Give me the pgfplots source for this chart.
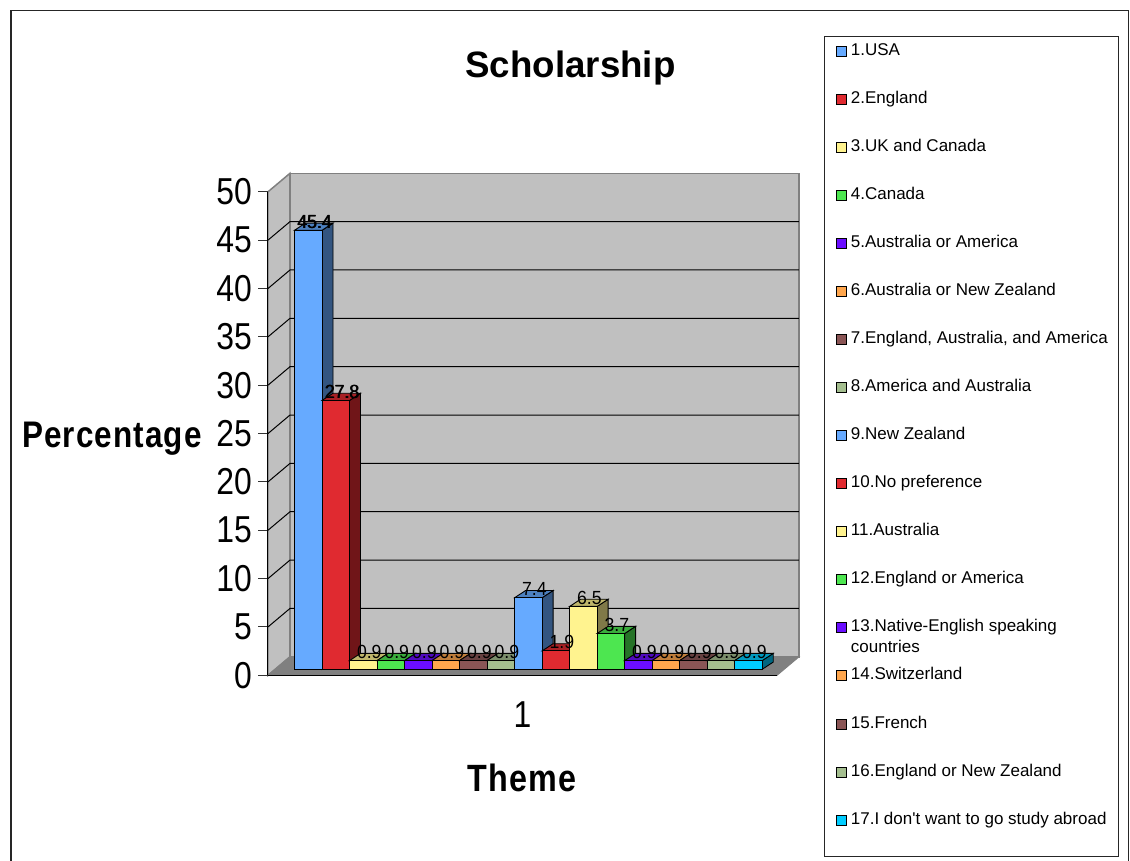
\documentclass[border=0pt]{standalone}
\usepackage{pgfplots}
\pgfplotsset{compat=1.18}
\usepackage{fontspec}
\setmainfont{Liberation Sans}
\newfontfamily\tickfont[FakeStretch=0.85]{Liberation Sans}
\newfontfamily\namefont[FakeStretch=0.85,LetterSpace=3]{Liberation Sans}
\newfontfamily\legendfont{Liberation Sans}
\newfontfamily\valuefont[FakeStretch=0.93]{Liberation Sans}

\definecolor{cBlue}{HTML}{66AAFF}
\definecolor{cRed}{HTML}{E02A30}
\definecolor{cYellow}{HTML}{FFF38F}
\definecolor{cGreen}{HTML}{4DE650}
\definecolor{cPurple}{HTML}{6A0DFF}
\definecolor{cOrange}{HTML}{FFA64D}
\definecolor{cBrown}{HTML}{8A5555}
\definecolor{cSage}{HTML}{A4BE8F}
\definecolor{cCyan}{HTML}{00CCFF}
\definecolor{wall}{HTML}{C0C0C0}
\definecolor{floorgray}{HTML}{808080}
\definecolor{grid}{HTML}{2A2A2A}

% Depth of a bar, in bar slots and in percentage points
\newcommand{\depthx}{0.4}
\newcommand{\depthy}{0.745}

% One bar: side face, top face, front face and its legend entry
\newcommand{\threeDbar}[4]{%
  \pgfmathsetmacro{\xl}{#1-1}
  \pgfmathsetmacro{\xm}{#1-0.5}
  \pgfmathsetmacro{\xr}{#1}
  \pgfmathsetmacro{\xlb}{#1-1+\depthx}
  \pgfmathsetmacro{\xrb}{#1+\depthx}
  \pgfmathsetmacro{\yb}{#2+\depthy}
  \addplot[forget plot, fill=#3!50!black, draw=black, line width=0.9pt]
    coordinates {(\xr,0) (\xrb,\depthy) (\xrb,\yb) (\xr,#2)} -- cycle;
  \addplot[forget plot, fill=#3!75!black, draw=black, line width=0.9pt]
    coordinates {(\xl,#2) (\xlb,\yb) (\xrb,\yb) (\xr,#2)} -- cycle;
  \addplot[ybar, bar width=27.51pt, bar shift=0pt, fill=#3, draw=black, line width=0.9pt,
    legend image code/.code={\draw[fill=#3, draw=black, line width=0.9pt] (0pt,-5pt) rectangle (10pt,5pt);}]
    coordinates {(\xm,#2)};
  \addlegendentry{#4}
}

\begin{document}
\begin{tikzpicture}
\path[use as bounding box] (0pt,0pt) rectangle (1130pt,861pt);
\draw[line width=1.6pt, color=black!85] (10.8pt,0pt) -- (10.8pt,850.5pt) -- (1128.5pt,850.5pt) -- (1128.5pt,0pt);
\draw[line width=1pt, color=black!85] (824.5pt,4pt) rectangle (1118.5pt,824pt);

% Walls, floor, value axis and titles
\begin{axis}[
  at={(268pt,185.7pt)}, anchor=south west, scale only axis,
  width=509pt, height=483.5pt,
  xmin=0.5, xmax=1.5, ymin=0, ymax=50,
  clip=false, axis on top,
  axis x line=bottom, axis y line=left,
  axis line style={-, black, line width=1pt},
  /pgf/number format/assume math mode=true,
  xtick={1}, xticklabels={1},
  extra x ticks={0.5,1.5}, extra x tick labels={},
  extra x tick style={major tick length=11pt, tick style={black!70, line width=1pt}},
  x tick style={draw=none},
  ytick={0,5,...,50},
  y tick style={black!80, line width=1pt},
  tick align=outside, major tick length=10pt,
  yticklabel style={font=\tickfont\fontsize{37.5}{37.5}\selectfont, inner sep=0pt, xshift=-6pt},
  xticklabel style={font=\tickfont\fontsize{37.5}{37.5}\selectfont, inner sep=0pt, yshift=-16pt},
  title={Scholarship},
  title style={at={(axis description cs:0.5943,1.2436)}, anchor=center, inner sep=0pt,
    font=\bfseries\fontsize{36.7}{36.7}\selectfont},
  xlabel={Theme},
  xlabel style={at={(axis description cs:0.499,-0.2124)}, anchor=center, inner sep=0pt,
    font=\namefont\bfseries\fontsize{38}{38}\selectfont},
  ylabel={Percentage},
  ylabel style={at={(axis description cs:-0.3065,0.4898)}, anchor=center, rotate=-90, inner sep=0pt,
    font=\namefont\bfseries\fontsize{37}{37}\selectfont},
]
  \addplot[fill=wall, draw=floorgray, line width=1.5pt]
    coordinates {(0.5432,1.913) (1.5432,1.913) (1.5432,51.913) (0.5432,51.913)} -- cycle;
  \addplot[fill=wall, draw=floorgray, line width=1.5pt]
    coordinates {(0.5,0) (0.5432,1.913) (0.5432,51.913) (0.5,50)} -- cycle;
  \addplot[fill=floorgray, draw=floorgray, line width=1pt]
    coordinates {(0.5,0) (1.5,0) (1.5432,1.913) (0.5432,1.913)} -- cycle;
  % Gridlines run across the side wall and the back wall
  \addplot[grid, line width=1pt] coordinates {(0.5,5) (0.5432,6.913) (1.5432,6.913)};
  \addplot[grid, line width=1pt] coordinates {(0.5,10) (0.5432,11.913) (1.5432,11.913)};
  \addplot[grid, line width=1pt] coordinates {(0.5,15) (0.5432,16.913) (1.5432,16.913)};
  \addplot[grid, line width=1pt] coordinates {(0.5,20) (0.5432,21.913) (1.5432,21.913)};
  \addplot[grid, line width=1pt] coordinates {(0.5,25) (0.5432,26.913) (1.5432,26.913)};
  \addplot[grid, line width=1pt] coordinates {(0.5,30) (0.5432,31.913) (1.5432,31.913)};
  \addplot[grid, line width=1pt] coordinates {(0.5,35) (0.5432,36.913) (1.5432,36.913)};
  \addplot[grid, line width=1pt] coordinates {(0.5,40) (0.5432,41.913) (1.5432,41.913)};
  \addplot[grid, line width=1pt] coordinates {(0.5,45) (0.5432,46.913) (1.5432,46.913)};
\end{axis}

% The seventeen bars and the legend
\begin{axis}[
  at={(294.5pt,191.7pt)}, anchor=south west, scale only axis,
  width=467.7pt, height=483.5pt,
  xmin=0, xmax=17, ymin=0, ymax=50,
  clip=false, hide axis,
  /pgf/number format/assume math mode=true,
  legend cell align=left,
  legend style={
    at={(axis description cs:1.1578,1.2953)}, anchor=north west,
    draw=none, fill=none, inner sep=0pt, outer sep=0pt,
    font=\legendfont\fontsize{17}{21}\selectfont,
    row sep=32.07pt, column sep=4pt,
    nodes={inner sep=0pt, text height=12pt, text depth=4pt},
  },
  labelstyle/.style={only marks, mark=none, forget plot, nodes near coords,
    every node near coord/.style={anchor=center, inner sep=0pt, xshift=#1, yshift=8.5pt,
      font=\valuefont\fontsize{19}{19}\selectfont, text=black}},
]
  \threeDbar{1}{45.4}{cBlue}{1.USA}
  \threeDbar{2}{27.8}{cRed}{2.England}
  \threeDbar{3}{0.9}{cYellow}{3.UK and Canada}
  \threeDbar{4}{0.9}{cGreen}{4.Canada}
  \threeDbar{5}{0.9}{cPurple}{5.Australia or America}
  \threeDbar{6}{0.9}{cOrange}{6.Australia or New Zealand}
  \threeDbar{7}{0.9}{cBrown}{7.England, Australia, and America}
  \threeDbar{8}{0.9}{cSage}{8.America and Australia}
  \threeDbar{9}{7.4}{cBlue}{9.New Zealand}
  \threeDbar{10}{1.9}{cRed}{10.No preference}
  \threeDbar{11}{6.5}{cYellow}{11.Australia}
  \threeDbar{12}{3.7}{cGreen}{12.England or America}
  \threeDbar{13}{0.9}{cPurple}{\smash{\parbox[t]{262pt}{13.Native-English speaking\\countries}}}
  \threeDbar{14}{0.9}{cOrange}{14.Switzerland}
  \threeDbar{15}{0.9}{cBrown}{15.French}
  \threeDbar{16}{0.9}{cSage}{16.England or New Zealand}
  \threeDbar{17}{0.9}{cCyan}{17.I don't want to go study abroad}

  % Value labels sit above every bar, drawn after all the faces
  \addplot[labelstyle=6pt] table[row sep=\\] {
    x y\\ 0.5 45.4\\ 1.5 27.8\\ 2.5 0.9\\ 3.5 0.9\\ 4.5 0.9\\ 5.5 0.9\\ 6.5 0.9\\ 7.5 0.9\\
    8.5 7.4\\ 9.5 1.9\\ 10.5 6.5\\ 11.5 3.7\\ 12.5 0.9\\ 13.5 0.9\\ 14.5 0.9\\ 15.5 0.9\\ 16.5 0.9\\
  };
  % These two labels are struck twice and read heavier
  \addplot[labelstyle=6.8pt] table[row sep=\\] {
    x y\\ 0.5 45.4\\ 1.5 27.8\\
  };
\end{axis}
\end{tikzpicture}
\end{document}
